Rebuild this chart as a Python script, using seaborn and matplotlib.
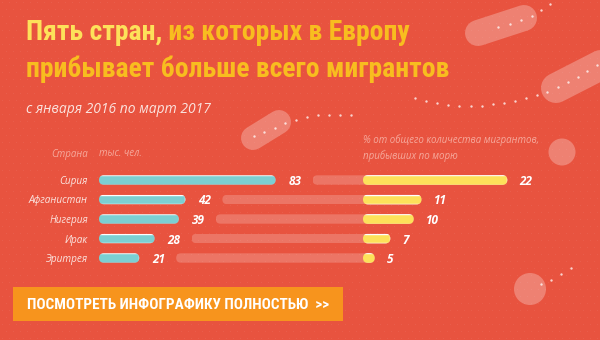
import numpy as np
import pandas as pd
import matplotlib
matplotlib.use("Agg")
import matplotlib.pyplot as plt
import seaborn as sns
from matplotlib import font_manager as fm
from matplotlib.patches import FancyBboxPatch, Circle, Rectangle
from matplotlib.transforms import IdentityTransform

# ---------------- data ----------------
countries = ["Сирия", "Афганистан", "Нигерия", "Ирак", "Эритрея"]
arrivals_k = [83, 42, 39, 28, 21]          # тыс. чел.
share_pct = [22, 11, 10, 7, 5]             # % от общего количества мигрантов

title_a = "Пять стран,"
title_b = " из которых в Европу"
title_c = "прибывает больше всего мигрантов"
subtitle = "с января 2016 по март 2017"
head_country = "Страна"
head_k = "тыс. чел."
head_pct = "% от общего количества мигрантов,\nприбывших по морю"
button_text = "ПОСМОТРЕТЬ ИНФОГРАФИКУ ПОЛНОСТЬЮ  >>"

# ---------------- style ----------------
sns.set_theme(style="white")
avail = {f.name for f in fm.fontManager.ttflist}


def pick(*names):
    for n in names:
        if n in avail:
            return n
    return "DejaVu Sans"


COND = pick("Liberation Sans Narrow", "DejaVu Sans Condensed", "Roboto Condensed", "DejaVu Sans")
BODY = pick("Open Sans", "Roboto", "Noto Sans", "DejaVu Sans")
plt.rcParams["font.family"] = [BODY, "DejaVu Sans"]

BG = "#E8533F"
TEAL = "#7CCFD2"
YELLOW = "#FDE15A"
GOLD = "#F8BD1F"
ORANGE = "#F7941D"
PALE = "#FBE4DF"
FADED = "#F6A99C"

W, H = 600, 340
fig = plt.figure(figsize=(6, 3.4), dpi=100)
fig.patch.set_facecolor(BG)


def px_axes(x0, y0, x1, y1):
    ax = fig.add_axes([x0 / W, 1 - y1 / H, (x1 - x0) / W, (y1 - y0) / H])
    ax.set_facecolor("none")
    return ax


deco = px_axes(0, 0, W, H)
deco.set_xlim(0, W)
deco.set_ylim(H, 0)
deco.axis("off")

# subtle dotted texture
gx, gy = np.meshgrid(np.arange(2, W, 7.0), np.arange(2, H, 7.0))
gx = gx + (np.arange(gx.shape[0])[:, None] % 2) * 3.5
deco.scatter(gx.ravel(), gy.ravel(), s=0.6, color="white", alpha=0.07, lw=0)

# decorative capsules / blobs
for (x0, y0, x1, y1, t) in [(478, 33, 524, 18, 26), (556, 88, 640, 45, 30), (253, 138, 279, 122, 24)]:
    deco.plot([x0, x1], [y0, y1], color="white", alpha=0.27, lw=t * 0.72,
              solid_capstyle="round")
deco.add_patch(Circle((562, 152), 13.5, color="white", alpha=0.27, lw=0))
deco.add_patch(Circle((530, 289), 16, color="white", alpha=0.27, lw=0))

dots_x = [498, 510, 521, 532, 541, 550,
          547, 558, 568, 578, 587, 597,
          415, 426, 437, 448, 459, 471, 482, 493, 504, 515, 526, 537,
          254, 264, 275, 285, 296, 307, 318, 329, 340, 351,
          541, 551, 561, 571]
dots_y = [27, 24, 20, 16, 10, 4,
          92, 87, 82, 77, 71, 65,
          98, 101, 103, 105, 106, 106, 106, 104, 103, 101, 98, 95,
          136, 132, 128, 123, 120, 117, 115, 115, 115, 115,
          284, 280, 274, 268]
deco.scatter(dots_x, dots_y, s=3, color="white", alpha=0.75, lw=0)

# titles
TS = 20
t1 = deco.text(26, 40, title_a, fontfamily=COND, fontweight="bold", fontsize=TS,
               color=YELLOW, va="baseline", ha="left")
deco.annotate(title_b, xy=(1, 0), xycoords=t1, va="bottom", ha="left",
              fontfamily=COND, fontweight="bold", fontsize=TS, color=GOLD)
deco.text(26, 77, title_c, fontfamily=COND, fontweight="bold", fontsize=TS,
          color=GOLD, va="baseline", ha="left")
deco.text(26, 113, subtitle, fontsize=10, style="italic", color=PALE, va="baseline")

# column headers
deco.text(88, 154, head_country, ha="right", va="center", fontsize=7, style="italic", color=FADED)
deco.text(99, 154, head_k, ha="left", va="center", fontsize=7, style="italic", color=FADED)
deco.text(363, 148, head_pct, ha="left", va="center", fontsize=7, style="italic",
          color=FADED, linespacing=1.45)

# button
deco.add_patch(Rectangle((13, 287), 330, 34, color=ORANGE, lw=0))
deco.text(27, 305, button_text, fontfamily=COND, fontweight="bold", fontsize=11,
          color="white", va="center", ha="left")

df = pd.DataFrame({"country": countries, "k": arrivals_k, "pct": share_pct})

ROW_TOP, ROW_BOT = 170.25, 267.75

# ---------------- teal bars (thousands) ----------------
K1, A1 = 2.2, 2.73
ax1 = px_axes(99, ROW_TOP, 379, ROW_BOT)
sns.barplot(data=df, x="k", y="country", orient="h", color=TEAL, saturation=1,
            width=0.48, ax=ax1)
ax1.set_xlim(A1, A1 + 280 / K1)
ax1.set_ylim(4.5, -0.5)
# faded tracks from after the value label to the yellow bars
track_start = [v + 37 / K1 for v in arrivals_k]
track_end = (369 - 99) / K1 + A1
ax1.barh(range(len(countries)), [track_end - s for s in track_start], left=track_start,
         height=0.48, color="white", alpha=0.2, lw=0)
for i, v in enumerate(arrivals_k):
    ax1.annotate(str(v), xy=(v, i), xytext=(13, 0), textcoords="offset pixels",
                 va="center_baseline", ha="left", fontsize=8.5, fontweight="bold",
                 style="italic", color="white", annotation_clip=False)

# ---------------- yellow bars (share) ----------------
K2, A2 = 7.8, 3.5
ax2 = px_axes(363, ROW_TOP, 560, ROW_BOT)
sns.barplot(data=df, x="pct", y="country", orient="h", color=YELLOW, saturation=1,
            width=0.5, ax=ax2)
ax2.set_xlim(A2, A2 + 197 / K2)
ax2.set_ylim(4.5, -0.5)
for i, v in enumerate(share_pct):
    ax2.annotate(str(v), xy=(v, i), xytext=(12, 0), textcoords="offset pixels",
                 va="center_baseline", ha="left", fontsize=8.5, fontweight="bold",
                 style="italic", color="white", annotation_clip=False)

for ax in (ax1, ax2):
    for s in ax.spines.values():
        s.set_visible(False)
    ax.set_xlabel("")
    ax.set_ylabel("")
    ax.xaxis.set_visible(False)
    ax.grid(False)

ax1.tick_params(axis="y", length=0, pad=11 * 0.72, labelsize=7.2, labelcolor=PALE)
for lab in ax1.get_yticklabels():
    lab.set_fontstyle("italic")
ax2.yaxis.set_visible(False)

# round the ends of every bar (clip to a stadium shape in pixel space)
for ax in (ax1, ax2):
    axbb = ax.get_window_extent()
    for p in ax.patches:
        bb = p.get_window_extent()
        x0 = max(bb.x0, axbb.x0)
        x1 = min(bb.x1, axbb.x1)
        if x1 <= x0:
            continue
        h = bb.height
        clip = FancyBboxPatch((x0, bb.y0), x1 - x0, h,
                              boxstyle=f"round,pad=0,rounding_size={min(h, x1 - x0) / 2}",
                              transform=IdentityTransform())
        p.set_clip_path(clip)

fig.savefig("out.png", dpi=100, facecolor=BG)
